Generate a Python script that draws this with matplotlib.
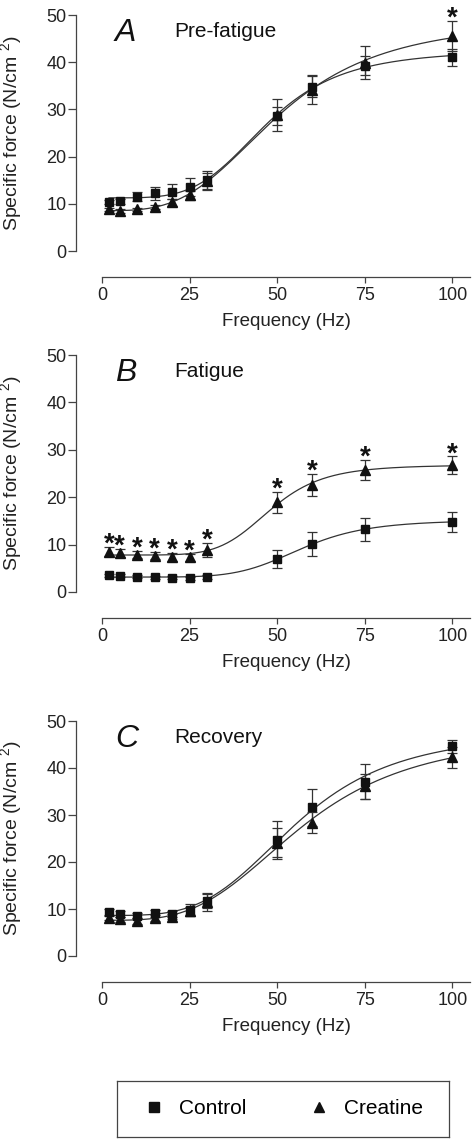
import numpy as np
import matplotlib
matplotlib.use('Agg')
import matplotlib.pyplot as plt
from matplotlib.lines import Line2D

plt.rcParams['font.family'] = ['Liberation Sans', 'DejaVu Sans']
plt.rcParams['mathtext.fontset'] = 'custom'
plt.rcParams['mathtext.rm'] = 'Liberation Sans'
plt.rcParams['mathtext.it'] = 'Liberation Sans:italic'


freq = [2, 5, 10, 15, 20, 25, 30, 50, 60, 75, 100]

# A - pre-fatigue
preControl = [10.4, 10.5, 11.5, 12.2, 12.6, 13.6, 15.0, 28.6, 34.8, 39.3, 41.0]
preControlErr = [0.5, 0.6, 1.0, 1.3, 1.5, 1.9, 2.0, 2.0, 2.2, 2.0, 1.7]
preCreatine = [8.8, 8.5, 8.8, 9.3, 10.3, 11.8, 14.8, 28.8, 34.2, 39.9, 45.6]
preCreatineErr = [0.4, 0.4, 0.4, 0.5, 0.7, 0.9, 1.7, 3.3, 3.0, 3.5, 3.2]
preStars = [100]

# B - fatigue
fatControl = [3.5, 3.4, 3.2, 3.1, 3.0, 2.9, 3.2, 7.0, 10.1, 13.2, 14.8]
fatControlErr = [0.3, 0.3, 0.3, 0.3, 0.3, 0.3, 0.4, 1.9, 2.6, 2.4, 2.1]
fatCreatine = [8.5, 8.2, 7.9, 7.7, 7.4, 7.3, 8.8, 18.9, 22.6, 25.8, 26.7]
fatCreatineErr = [1.0, 0.9, 0.8, 0.8, 0.8, 0.8, 1.5, 2.3, 2.3, 2.1, 1.9]
fatStars = [2, 5, 10, 15, 20, 25, 30, 50, 60, 75, 100]

# C - recovery
recControl = [9.3, 9.0, 8.6, 9.1, 8.9, 9.8, 11.8, 24.7, 31.6, 37.1, 44.6]
recControlErr = [0.6, 0.6, 0.6, 0.7, 0.7, 1.2, 1.5, 4.0, 3.9, 3.7, 1.4]
recCreatine = [8.1, 7.8, 7.5, 8.1, 8.4, 9.5, 11.4, 24.1, 28.4, 36.1, 42.3]
recCreatineErr = [0.5, 0.5, 0.6, 0.6, 0.6, 1.0, 1.8, 3.1, 2.3, 2.6, 2.2]
recStars = []

panelLetters = ['A', 'B', 'C']
panelTitles = ['Pre-fatigue', 'Fatigue', 'Recovery']
groupNames = ['Control', 'Creatine']


def fitHill(x, y):
    # sigmoid fit: grid over k and n, bottom/top solved by least squares
    x = np.asarray(x, float)
    y = np.asarray(y, float)
    best = None
    for k in np.arange(20, 90, 0.5):
        for n in np.arange(1, 10, 0.1):
            h = x**n / (x**n + k**n)
            A = np.column_stack([1 - h, h])
            coef = np.linalg.lstsq(A, y, rcond=None)[0]
            err = np.sum((A @ coef - y)**2)
            if best is None or err < best[0]:
                best = (err, k, n, coef)
    _, k, n, coef = best
    xs = np.linspace(min(x), max(x), 300)
    h = xs**n / (xs**n + k**n)
    return xs, coef[0] * (1 - h) + coef[1] * h


def drawPanel(ax, control, controlErr, creatine, creatineErr, stars, letter, title):
    lineCol = '#333333'
    for vals, errs, mk, ms in [(control, controlErr, 's', 6), (creatine, creatineErr, '^', 6.5)]:
        xs, ys = fitHill(freq, vals)
        ax.plot(xs, ys, color=lineCol, lw=0.9, zorder=2)
        ax.errorbar(freq, vals, yerr=errs, fmt=mk, ms=ms, color='#111111', ecolor=lineCol,
                    elinewidth=0.9, capsize=3.5, capthick=0.9, zorder=3, clip_on=False)

    # significance stars above creatine error bars
    for f in stars:
        i = freq.index(f)
        top = creatine[i] + creatineErr[i]
        ax.annotate('*', xy=(f, top), xytext=(0, -3.5), textcoords='offset points',
                    ha='center', va='baseline', fontsize=20, fontweight='bold',
                    color='#111111', annotation_clip=False)

    ax.text(3.7, 44.5, letter, fontsize=23, fontstyle='italic', color='#111111')
    ax.text(20.5, 45.3, title, fontsize=15, color='#111111')

    ax.set_xlim(0, 105)
    ax.set_ylim(0, 50)
    ax.spines['top'].set_visible(False)
    ax.spines['right'].set_visible(False)
    ax.spines['left'].set_position(('outward', 18.7))
    ax.spines['bottom'].set_position(('outward', 18.7))
    ax.spines['left'].set_bounds(0, 50)
    for s in ['left', 'bottom']:
        ax.spines[s].set_color('#444444')
        ax.spines[s].set_linewidth(0.9)
    ax.set_xticks([0, 25, 50, 75, 100])
    ax.set_yticks([0, 10, 20, 30, 40, 50])
    ax.tick_params(axis='both', labelsize=13, colors='#444444', labelcolor='#222222', width=0.9)
    ax.tick_params(axis='y', length=5.5, pad=1.5)
    ax.tick_params(axis='x', length=4, pad=3.5)

    ax.set_xlabel('Frequency (Hz)', fontsize=13.5, color='#222222')
    ax.set_ylabel('Specific force (N/cm $^{2}$)', fontsize=14, color='#222222')
    ax.xaxis.set_label_coords(0.5, -0.262)
    ax.yaxis.set_label_coords(-0.212, 0.5)


fig = plt.figure(figsize=(4.74, 11.42), dpi=100)

left = 102 / 474
width = 368 / 474
axA = fig.add_axes([left, (1142 - 251) / 1142, width, 236 / 1142])
axB = fig.add_axes([left, (1142 - 592) / 1142, width, 237 / 1142])
axC = fig.add_axes([left, (1142 - 956) / 1142, width, 235 / 1142])

drawPanel(axA, preControl, preControlErr, preCreatine, preCreatineErr, preStars, panelLetters[0], panelTitles[0])
drawPanel(axB, fatControl, fatControlErr, fatCreatine, fatCreatineErr, fatStars, panelLetters[1], panelTitles[1])
drawPanel(axC, recControl, recControlErr, recCreatine, recCreatineErr, recStars, panelLetters[2], panelTitles[2])

# legend box at the bottom
legAx = fig.add_axes([117 / 474, 5 / 1142, 332 / 474, 56 / 1142])
legAx.set_xticks([])
legAx.set_yticks([])
for s in legAx.spines.values():
    s.set_color('#444444')
    s.set_linewidth(0.9)
handles = [Line2D([], [], marker='s', ls='none', ms=7, color='#111111'),
           Line2D([], [], marker='^', ls='none', ms=7.5, color='#111111')]
legAx.legend(handles, groupNames, loc='center', ncol=2, frameon=False, fontsize=15,
             handlelength=1, handletextpad=0.7, columnspacing=3.0, borderpad=0)

fig.savefig('out.png', dpi=100)
